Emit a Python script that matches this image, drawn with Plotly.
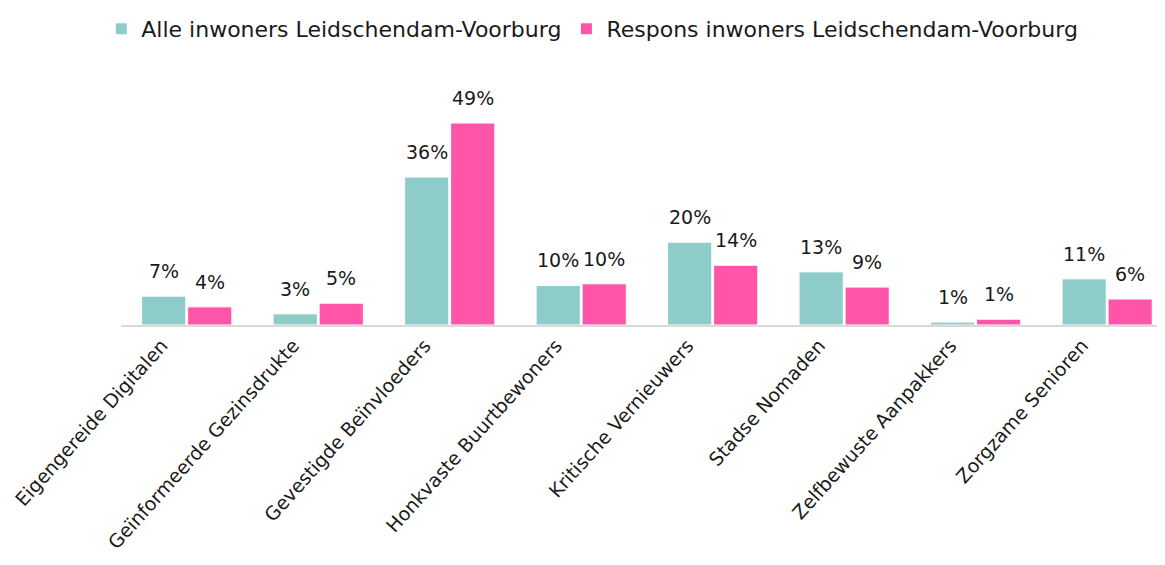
import plotly.graph_objects as go

categories = ["Eigengereide Digitalen", "Geïnformeerde Gezinsdrukte", "Gevestigde Beïnvloeders",
              "Honkvaste Buurtbewoners", "Kritische Vernieuwers", "Stadse Nomaden",
              "Zelfbewuste Aanpakkers", "Zorgzame Senioren"]
alle = [7.0, 2.7, 35.9, 9.6, 20.1, 12.9, 0.7, 11.2]
respons = [4.4, 5.3, 49.0, 10.0, 14.5, 9.2, 1.4, 6.3]
alle_labels = ["7%", "3%", "36%", "10%", "20%", "13%", "1%", "11%"]
respons_labels = ["4%", "5%", "49%", "10%", "14%", "9%", "1%", "6%"]

FONT = "DejaVu Sans, sans-serif"
TXT = "#1a1a1a"

fig = go.Figure()
fig.add_trace(go.Bar(
    x=categories, y=alle, name="Alle inwoners Leidschendam-Voorburg",
    marker=dict(color="#8ECCC9", line=dict(color="white", width=1)),
))
fig.add_trace(go.Bar(
    x=categories, y=respons, name="Respons inwoners Leidschendam-Voorburg",
    marker=dict(color="#FF55A8", line=dict(color="white", width=1)),
))

# value labels above bars
for cat, v, lab in zip(categories, alle, alle_labels):
    fig.add_annotation(x=cat, y=v, text=lab, showarrow=False, yanchor="bottom",
                       xshift=-23, yshift=12, font=dict(size=19, family=FONT, color=TXT))
for cat, v, lab in zip(categories, respons, respons_labels):
    fig.add_annotation(x=cat, y=v, text=lab, showarrow=False, yanchor="bottom",
                       xshift=23, yshift=12, font=dict(size=19, family=FONT, color=TXT))

fig.update_layout(
    width=1157, height=557,
    margin=dict(l=113, r=0, t=52, b=240),
    paper_bgcolor="white", plot_bgcolor="white",
    barmode="group", bargap=0.3, bargroupgap=0.04,
    font=dict(family=FONT, size=19, color=TXT),
    legend=dict(orientation="h", x=0.505, xanchor="center", xref="container",
                y=1.0, yanchor="top", yref="container",
                font=dict(size=22, family=FONT, color=TXT), itemwidth=30,
                traceorder="normal"),
    xaxis=dict(range=[-0.5, 7.44], tickangle=-48, showline=True, automargin=False,
               linecolor="#d9d9d9", linewidth=2, ticks="", ticklabelshift=-25,
               tickfont=dict(size=19, family=FONT, color=TXT)),
    yaxis=dict(range=[0, 64.3], visible=False, showgrid=False, zeroline=False),
)

fig.write_html("out.html")
